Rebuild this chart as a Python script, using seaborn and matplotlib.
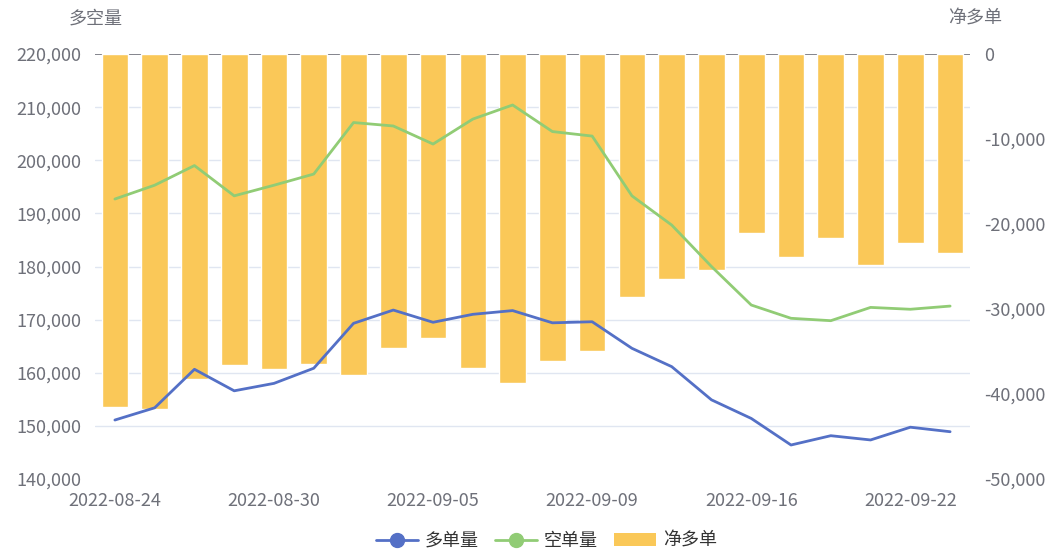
import matplotlib
matplotlib.use("Agg")
import matplotlib.pyplot as plt
from matplotlib.lines import Line2D
from matplotlib.patches import Patch
from matplotlib.ticker import FuncFormatter
import numpy as np
import pandas as pd
import seaborn as sns

# 数据
dates = ["2022-08-24", "2022-08-25", "2022-08-26", "2022-08-29", "2022-08-30", "2022-08-31",
         "2022-09-01", "2022-09-02", "2022-09-05", "2022-09-06", "2022-09-07", "2022-09-08",
         "2022-09-09", "2022-09-13", "2022-09-14", "2022-09-15", "2022-09-16", "2022-09-19",
         "2022-09-20", "2022-09-21", "2022-09-22", "2022-09-23"]
long_qty = [151100, 153400, 160650, 156600, 158000, 160850, 169300, 171800, 169500, 171000, 171700,
            169400, 169600, 164600, 161150, 154900, 151400, 146400, 148150, 147350, 149750, 148900]
short_qty = [192700, 195300, 199000, 193300, 195300, 197400, 207100, 206450, 203050, 207750, 210400,
             205400, 204550, 193300, 187800, 180000, 172750, 170250, 169800, 172300, 171950, 172550]
net_long = [-41500, -41800, -38250, -36600, -37100, -36500, -37800, -34600, -33400, -36900, -38750,
            -36100, -34950, -28550, -26450, -25400, -21100, -23850, -21650, -24850, -22200, -23450]

df = pd.DataFrame({"日期": dates, "多单量": long_qty, "空单量": short_qty, "净多单": net_long})
df["i"] = np.arange(len(df))

sns.set_theme(style="white")
plt.rcParams["font.family"] = ["Noto Sans CJK SC", "DejaVu Sans"]

c_blue, c_green, c_yellow = "#5470c6", "#91cc75", "#fac858"
c_text, c_grid = "#6e7079", "#e0e6f1"
fs = 13

fig = plt.figure(figsize=(10.59, 5.52), dpi=100)
ax = fig.add_axes([95 / 1059, 1 - 479 / 552, 875 / 1059, 425 / 552])

# 柱子画在主轴(右侧刻度),线画在副轴(左侧刻度)
sns.barplot(data=df, x="i", y="净多单", ax=ax, color=c_yellow, saturation=1, width=0.67, zorder=2)
ax.set_ylim(-50000, 0)
ax.set_xlim(-0.5, len(df) - 0.5)
ax.set_yticks(np.arange(-50000, 1, 10000))
# 网格线与左轴刻度对齐
ax.set_yticks(np.linspace(-50000, 0, 9), minor=True)
ax.grid(which="minor", axis="y", color=c_grid, lw=1, zorder=0)
ax.axhline(0, color=c_text, lw=1.2, zorder=1)
ax.yaxis.set_major_formatter(FuncFormatter(lambda v, p: f"{v:,.0f}"))
ax.set_xticks(np.arange(0, len(df), 4))
ax.set_xticklabels(dates[::4])
ax.set_xlabel("")
ax.set_ylabel("")
ax.tick_params(axis="both", which="both", length=0, labelsize=fs, colors=c_text)
ax.tick_params(axis="y", pad=10)
ax.tick_params(axis="x", pad=9)
for s in ax.spines.values():
    s.set_visible(False)

ax2 = ax.twinx()
sns.lineplot(data=df, x="i", y="多单量", ax=ax2, color=c_blue, lw=2)
sns.lineplot(data=df, x="i", y="空单量", ax=ax2, color=c_green, lw=2)
ax2.set_ylim(140000, 220000)
ax2.set_yticks(np.arange(140000, 220001, 10000))
ax2.yaxis.set_major_formatter(FuncFormatter(lambda v, p: f"{v:,.0f}"))
ax2.set_ylabel("")
ax2.set_xlabel("")
ax2.tick_params(axis="y", length=0, labelsize=fs, colors=c_text, pad=10)
for s in ax2.spines.values():
    s.set_visible(False)
# twinx 之后再交换刻度位置
ax.yaxis.tick_right()
ax2.yaxis.tick_left()

fig.text(96 / 1059, 1 - 19 / 552, "多空量", ha="center", va="center", fontsize=fs, color=c_text)
fig.text(975 / 1059, 1 - 19 / 552, "净多单", ha="center", va="center", fontsize=fs, color=c_text)

handles = [
    Line2D([], [], color=c_blue, lw=2, marker="o", markersize=10),
    Line2D([], [], color=c_green, lw=2, marker="o", markersize=10),
    Patch(facecolor=c_yellow, edgecolor="none"),
]
fig.legend(handles, ["多单量", "空单量", "净多单"], loc="center", bbox_to_anchor=(0.516, 1 - 541 / 552),
           ncol=3, frameon=False, fontsize=fs, labelcolor="#333333", handlelength=2.3,
           handletextpad=0.4, columnspacing=0.9)

fig.savefig("out.png", dpi=100)
